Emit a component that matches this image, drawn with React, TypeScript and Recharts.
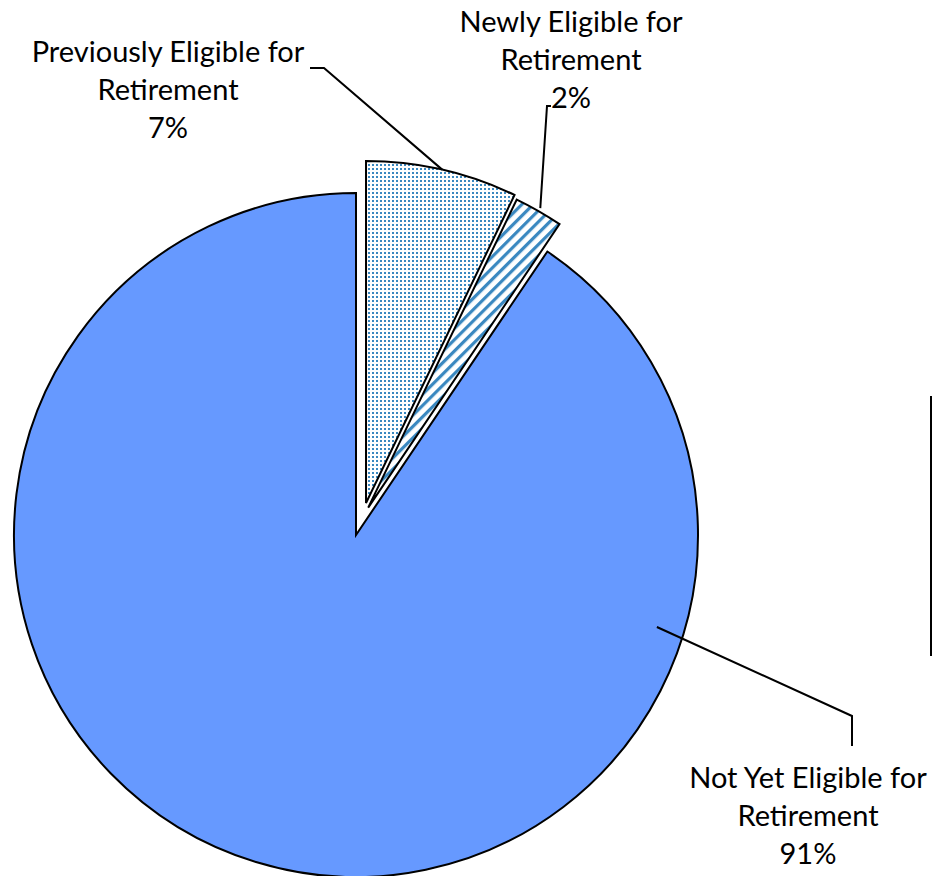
import React from 'react';
import { PieChart, Pie, Cell } from 'recharts';

const categories = [
  'Previously Eligible for Retirement',
  'Newly Eligible for Retirement',
  'Not Yet Eligible for Retirement',
];
const values = [7.15, 2.3, 90.55];
const labelLines = [
  ['Previously Eligible for', 'Retirement'],
  ['Newly Eligible for', 'Retirement'],
  ['Not Yet Eligible for', 'Retirement'],
];
const fills = ['url(#dotsPattern)', 'url(#stripesPattern)', '#6699FF'];
// explosion of each slice: distance and direction (degrees)
const EXPLODE = [
  { dist: 33.5, angle: 72.6 },
  { dist: 30, angle: 66 },
  { dist: 0, angle: 0 },
];

const W = 932;
const H = 876;
const CX = 356;
const CY = 535;
const R = 342;
const FONT = 'Lato, "Open Sans", sans-serif';
const FS = 29;
const LH = 38;

// label placement (annotation layout)
const LABEL_LAYOUT = [
  { tx: 168, ty: 62, anchorAngle: null, anchorK: 1.0, path: [[324, 68], [310, 68]] },
  { tx: 571, ty: 32, anchorAngle: null, anchorK: 1.01, path: [[547, 106], [551, 106]] },
  { tx: 808, ty: 788, anchorAngle: -17, anchorK: 0.92, path: [[852, 716], [852, 746]] },
];

const total = values.reduce((a, b) => a + b, 0);
const RAD = Math.PI / 180;

const slices = (() => {
  let cum = 0;
  return values.map((v, i) => {
    const start = 90 - (360 * cum) / total;
    cum += v;
    const end = 90 - (360 * cum) / total;
    const e = EXPLODE[i];
    return {
      i,
      name: categories[i],
      value: v,
      start,
      end,
      cx: CX + e.dist * Math.cos(e.angle * RAD),
      cy: CY - e.dist * Math.sin(e.angle * RAD),
    };
  });
})();

const makeLabel = (i: number) => (props: any) => {
  const lay = LABEL_LAYOUT[i];
  const ang = lay.anchorAngle == null ? props.midAngle : lay.anchorAngle;
  const r = props.outerRadius * lay.anchorK;
  const ax = props.cx + r * Math.cos(ang * RAD);
  const ay = props.cy - r * Math.sin(ang * RAD);
  const pts = [[ax, ay], ...lay.path].map((p) => p.join(',')).join(' ');
  const pct = Math.round((values[i] / total) * 100) + '%';
  const lines = [...labelLines[i], pct];
  return (
    <g key={'lbl' + i}>
      <polyline points={pts} fill="none" stroke="#000" strokeWidth={2} />
      <text
        x={lay.tx}
        y={lay.ty}
        textAnchor="middle"
        fontFamily={FONT}
        fontSize={FS}
        fill="#000"
      >
        {lines.map((t, k) => (
          <tspan key={k} x={lay.tx} y={lay.ty + k * LH}>
            {t}
          </tspan>
        ))}
      </text>
    </g>
  );
};

export default function App() {
  return (
    <div style={{ position: 'absolute', left: 0, top: 0, width: W, height: H, background: '#fff' }}>
      <svg width={0} height={0} style={{ position: 'absolute' }}>
        <defs>
          <pattern id="dotsPattern" width={4} height={4} patternUnits="userSpaceOnUse">
            <rect width={4} height={4} fill="#fff" />
            <rect x={0} y={0} width={2} height={2} fill="#3A88C0" />
          </pattern>
          <pattern
            id="stripesPattern"
            width={8}
            height={8}
            patternUnits="userSpaceOnUse"
            patternTransform="rotate(45)"
          >
            <rect width={8} height={8} fill="#fff" />
            <rect x={0} y={0} width={3.2} height={8} fill="#3A88C0" />
          </pattern>
        </defs>
      </svg>
      <PieChart width={W} height={H} margin={{ top: 0, right: 0, bottom: 0, left: 0 }}>
        {slices.map((s) => (
          <Pie
            key={s.name}
            data={[{ name: s.name, value: s.value }]}
            dataKey="value"
            nameKey="name"
            cx={s.cx}
            cy={s.cy}
            outerRadius={R}
            startAngle={s.start}
            endAngle={s.end}
            stroke="#000"
            strokeWidth={2}
            isAnimationActive={false}
            labelLine={false}
            label={makeLabel(s.i)}
          >
            <Cell fill={fills[s.i]} />
          </Pie>
        ))}
      </PieChart>
      <svg width={W} height={H} style={{ position: 'absolute', left: 0, top: 0, pointerEvents: 'none' }}>
        <line x1={931} y1={396} x2={931} y2={656} stroke="#000" strokeWidth={2} />
      </svg>
    </div>
  );
}
